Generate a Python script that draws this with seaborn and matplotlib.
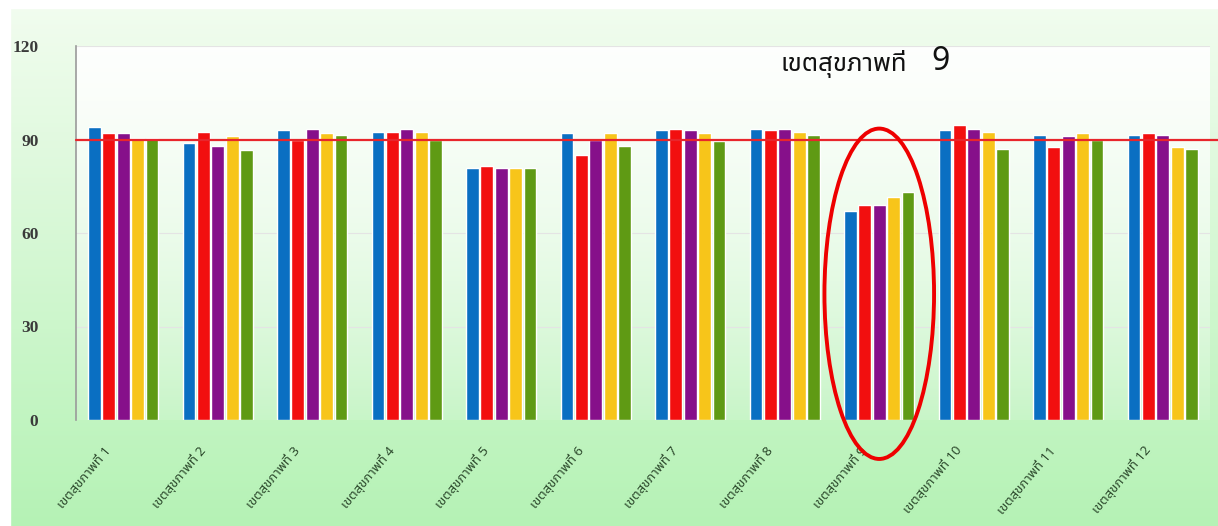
import numpy as np
import pandas as pd
import matplotlib
matplotlib.use("Agg")
import matplotlib.pyplot as plt
from matplotlib.patches import Ellipse
from matplotlib import font_manager
from matplotlib.transforms import ScaledTranslation
import seaborn as sns

# ---- data ----
regions = ["เขตสุขภาพที่ %d" % i for i in range(1, 13)]
series = ["ชุดที่ 1", "ชุดที่ 2", "ชุดที่ 3", "ชุดที่ 4", "ชุดที่ 5"]
s1 = [94.0, 89.0, 93.0, 92.5, 81.0, 92.0, 93.0, 93.5, 67.0, 93.0, 91.5, 91.5]
s2 = [92.0, 92.5, 90.0, 92.5, 81.5, 85.0, 93.5, 93.0, 69.0, 94.5, 87.5, 92.0]
s3 = [92.0, 88.0, 93.5, 93.5, 81.0, 90.0, 93.0, 93.5, 69.0, 93.5, 91.0, 91.5]
s4 = [90.5, 91.0, 92.0, 92.5, 81.0, 92.0, 92.0, 92.5, 71.5, 92.5, 92.0, 87.5]
s5 = [90.5, 86.5, 91.5, 90.0, 81.0, 88.0, 89.5, 91.5, 73.0, 87.0, 90.0, 87.0]
target = 90
yticks = [0, 30, 60, 90, 120]
highlight = "เขตสุขภาพที่ 9"
note_text = "เขตสุขภาพที่"
note_num = "9"

colors = ["#0a6fc2", "#f20f0f", "#86108a", "#f7c51a", "#5f9a14"]

# ---- font with Thai support ----
thai_family = None
for cand in ["Noto Sans Thai", "Noto Sans Thai UI", "Noto Serif Thai", "Loma", "Garuda",
             "Norasi", "Kinnari", "Sarabun", "Tlwg Typo", "Waree", "Laksaman",
             "DejaVu Sans", "Noto Sans", "FreeSerif", "FreeSans"]:
    try:
        path = font_manager.findfont(font_manager.FontProperties(family=cand), fallback_to_default=False)
        from matplotlib.ft2font import FT2Font
        f = FT2Font(path)
        cmap = f.get_charmap()
        if ord("ข") in cmap:
            thai_family = cand
            break
    except Exception:
        continue
families = ([thai_family] if thai_family else []) + ["DejaVu Sans"]

df = pd.DataFrame({
    "region": np.repeat(regions, len(series)),
    "series": np.tile(series, len(regions)),
    "value": np.column_stack([s1, s2, s3, s4, s5]).ravel(),
})

sns.set_theme(style="white")
plt.rcParams["font.family"] = families

W, H = 1218, 526
fig = plt.figure(figsize=(W / 100, H / 100), dpi=100)

# background gradient
bg = fig.add_axes([0, 0, 1, 1], zorder=-10)
grad = np.linspace(0, 1, 256)[:, None]
top = np.array([0.95, 0.99, 0.94])
bot = np.array([0.71, 0.95, 0.71])
img = top[None, None, :] * (1 - grad[..., None]) + bot[None, None, :] * grad[..., None]
img = np.repeat(img, 4, axis=1)
bg.imshow(img, aspect="auto", extent=[0, 1, 0, 1], origin="upper")
bg.add_patch(plt.Rectangle((0, 0.985), 1, 0.02, color="white", transform=bg.transAxes))
bg.add_patch(plt.Rectangle((0, 0), 0.008, 1, color="white", transform=bg.transAxes))
bg.set_axis_off()

ax = fig.add_axes([76 / W, 1 - 420 / H, (1210 - 76) / W, (420 - 46) / H])
ax.set_facecolor("none")
# plot-area white wash fading downwards
wash = np.ones((256, 4, 4))
wash[..., 3] = np.linspace(0.92, 0.12, 256)[:, None]
ax.imshow(wash, aspect="auto", extent=[0, 1, 0, 1], transform=ax.transAxes, zorder=0)

sns.barplot(data=df, x="region", y="value", hue="series", palette=colors,
            width=0.76, gap=0.1, saturation=1, legend=False, ax=ax, zorder=3)

ax.set_ylim(0, 120)
ax.set_xlim(-0.5, len(regions) - 0.5)
ax.set_yticks(yticks)
ax.set_yticklabels([str(t) for t in yticks], fontfamily="Liberation Serif",
                   fontweight="bold", fontsize=12.5, color="#3a3a3a")
ax.tick_params(axis="y", pad=27, length=0)
ax.tick_params(axis="x", length=0, pad=17)
for t in yticks[1:]:
    if t != target:
        ax.axhline(t, color="#e4e4e4", lw=0.8, zorder=1)
ax.axhline(target, color="#e8262c", lw=1.6, zorder=4, clip_on=False, xmax=1.01)

ax.set_xticks(range(len(regions)))
ax.set_xticklabels(regions, rotation=50, ha="right", rotation_mode="anchor",
                   fontsize=9.5, color="#2d4a2d", fontweight="bold")
off = ScaledTranslation(-20 / 100, 0, fig.dpi_scale_trans)
for lab in ax.get_xticklabels():
    lab.set_transform(lab.get_transform() + off)
ax.set_xlabel("")
ax.set_ylabel("")
for s in ["top", "right", "bottom"]:
    ax.spines[s].set_visible(False)
ax.spines["left"].set_color("#9a9a9a")
ax.spines["left"].set_linewidth(1.2)

# highlight ellipse around region 9
hi = regions.index(highlight)
ell = Ellipse((hi, 40.5), width=1.16, height=106, fill=False, edgecolor="#ee0000",
              lw=2.8, zorder=6, clip_on=False)
ax.add_patch(ell)
ax.text(hi - 1.05, 114.3, note_text, fontsize=18.5, color="#111111", ha="left",
        va="center", family=families, zorder=7)
ax.text(hi + 0.65, 115.0, note_num, fontsize=23, color="#111111", ha="center", va="center",
        family=families, zorder=7)

fig.savefig("out.png", dpi=100)
